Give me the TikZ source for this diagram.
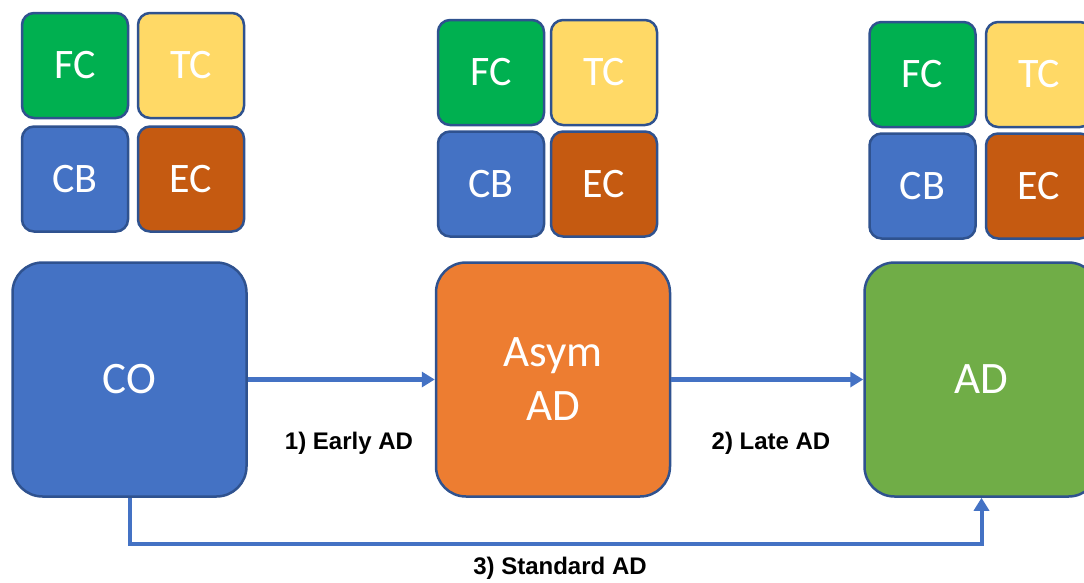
\documentclass[tikz,border=0pt]{standalone}
\usepackage{fontspec}
\setmainfont{Carlito}
\newfontfamily\labelfont{Liberation Sans}
\usetikzlibrary{arrows.meta}

\definecolor{fcgreen}{HTML}{00B050}
\definecolor{tcyellow}{HTML}{FFD966}
\definecolor{cbblue}{HTML}{4472C4}
\definecolor{ecbrown}{HTML}{C55A11}
\definecolor{asymorange}{HTML}{ED7D31}
\definecolor{adgreen}{HTML}{70AD47}
\definecolor{edgeblue}{HTML}{2F528F}

\tikzset{
  cell/.style={draw=edgeblue, line width=2.5pt, rounded corners=12pt,
    minimum width=106pt, minimum height=105pt, text=white,
    font=\fontsize{42}{44}\selectfont},
  stage/.style={draw=edgeblue, line width=2.5pt, rounded corners=30pt,
    minimum width=234pt, minimum height=234pt, text=white, align=center,
    font=\fontsize{45}{54}\selectfont},
  path/.style={draw=cbblue, line width=4.5pt,
    -{Triangle[length=13pt,width=15pt]}},
  pathlabel/.style={font=\labelfont\bfseries\fontsize{24}{26}\selectfont}
}

\begin{document}
\begin{tikzpicture}[x=1pt,y=-1pt]
\useasboundingbox (0,0) rectangle (1084,582);
\clip (0,0) rectangle (1084,582);

\node[cell, fill=fcgreen] (fc1) at (75,65.5) {FC};
\node[cell, fill=tcyellow] (tc1) at (191,65.5) {TC};
\node[cell, fill=cbblue] (cb1) at (75,179) {CB};
\node[cell, fill=ecbrown] (ec1) at (191,179) {EC};

\node[cell, fill=fcgreen] (fc2) at (491,72.5) {FC};
\node[cell, fill=tcyellow] (tc2) at (604,72.5) {TC};
\node[cell, fill=cbblue] (cb2) at (491,184) {CB};
\node[cell, fill=ecbrown] (ec2) at (604,184) {EC};

\node[cell, fill=fcgreen] (fc3) at (922.5,74.5) {FC};
\node[cell, fill=tcyellow] (tc3) at (1039,74.5) {TC};
\node[cell, fill=cbblue] (cb3) at (922.5,186) {CB};
\node[cell, fill=ecbrown] (ec3) at (1039,186) {EC};

\node[stage, fill=cbblue] (co) at (129.5,379.5) {CO};
\node[stage, fill=asymorange] (asym) at (553,379.5) {Asym\\AD};
\node[stage, fill=adgreen] (ad) at (981.5,379.5) {AD};

\draw[path] (co.east) -- (asym.west);
\draw[path] (asym.east) -- (ad.west);
\draw[path, line width=4pt] (co.south) -- ++(0,46) -| (ad.south);

\node[pathlabel] (early) at (349,443) {1) Early AD};
\node[pathlabel] (late) at (771,443) {2) Late AD};
\node[pathlabel] (standard) at (560,568) {3) Standard AD};
\end{tikzpicture}
\end{document}
